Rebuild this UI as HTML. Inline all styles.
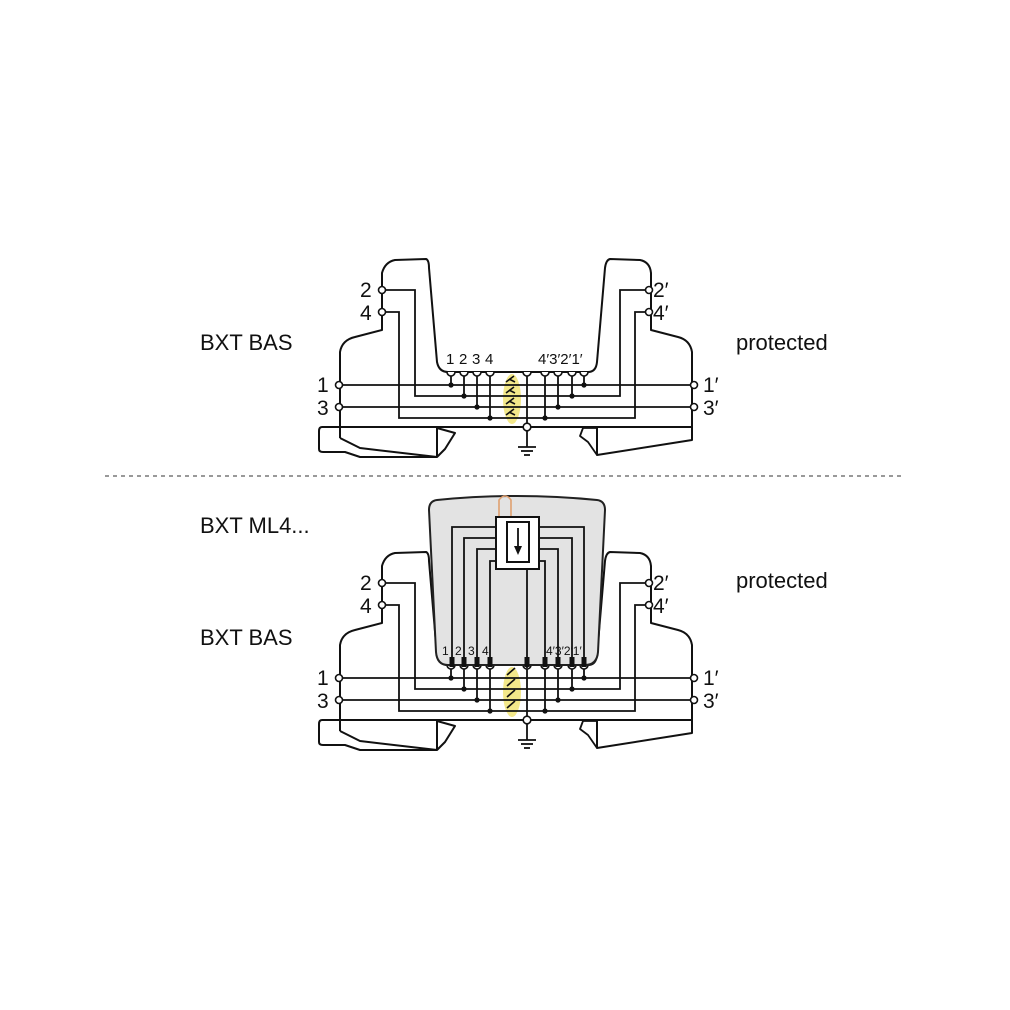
<!DOCTYPE html>
<html><head><meta charset="utf-8"><style>
html,body{margin:0;padding:0;background:#fff}
svg{display:block}
text{font-family:"Liberation Sans","DejaVu Sans",sans-serif;fill:#111}
</style></head><body>
<svg width="1010" height="1010" viewBox="0 0 1010 1010" xmlns="http://www.w3.org/2000/svg">
<defs>
<g id="mod" fill="none" stroke="#111" stroke-width="2" stroke-linejoin="round">
  <!-- housing outline -->
  <path d="M340,438 L340,352 Q342,340 355,337 L382,330 L382,273 Q385,262 395,260 L426,259 Q429,260 429,268 L437,362 Q439,372 448,372 L588,372 Q596,372 597,362 L605,268 Q606,260 610,259 L640,260 Q650,262 651,273 L651,330 L678,337 Q690,340 692,352 L692,440 L597,455 L597,428"/>
  <path d="M597,428 L583,428 L580,436 L588,442 L597,455" stroke-width="1.8"/>
  <path d="M340,438 L360,448 L437,457 L437,428 L455,433 L445,449 L437,457"/>
  <path d="M340,427 L322,427 Q319,427 319,431 L319,449 Q319,452 323,452 L345,452 L360,457 L437,457"/>
  <!-- base line -->
  <line x1="340" y1="427" x2="692" y2="427"/>
</g>
<g id="wires" fill="none" stroke="#111" stroke-width="1.8">
  <line x1="339" y1="385" x2="694" y2="385"/>
  <line x1="339" y1="407" x2="694" y2="407"/>
  <path d="M382,290 L415,290 L415,396 L620,396 L620,290 L649,290"/>
  <path d="M382,312 L399,312 L399,418 L635,418 L635,312 L649,312"/>
  <line x1="451" y1="375" x2="451" y2="385"/>
  <line x1="464" y1="375" x2="464" y2="396"/>
  <line x1="477" y1="375" x2="477" y2="407"/>
  <line x1="490" y1="375" x2="490" y2="418"/>
  <line x1="545" y1="375" x2="545" y2="418"/>
  <line x1="558" y1="375" x2="558" y2="407"/>
  <line x1="572" y1="375" x2="572" y2="396"/>
  <line x1="584" y1="375" x2="584" y2="385"/>
  <line x1="527" y1="375" x2="527" y2="447"/>
  <line x1="518" y1="447" x2="536" y2="447"/>
  <line x1="521" y1="451" x2="533" y2="451"/>
  <line x1="524" y1="455" x2="530" y2="455"/>
</g>
<g id="dots" fill="#111">
  <circle cx="451" cy="385" r="2.6"/><circle cx="464" cy="396" r="2.6"/>
  <circle cx="477" cy="407" r="2.6"/><circle cx="490" cy="418" r="2.6"/>
  <circle cx="545" cy="418" r="2.6"/><circle cx="558" cy="407" r="2.6"/>
  <circle cx="572" cy="396" r="2.6"/><circle cx="584" cy="385" r="2.6"/>
</g>
<g id="terms" fill="#fff" stroke="#111" stroke-width="1.6">
  <circle cx="339" cy="385" r="3.5"/><circle cx="339" cy="407" r="3.5"/>
  <circle cx="694" cy="385" r="3.5"/><circle cx="694" cy="407" r="3.5"/>
  <circle cx="382" cy="290" r="3.5"/><circle cx="382" cy="312" r="3.5"/>
  <circle cx="649" cy="290" r="3.5"/><circle cx="649" cy="312" r="3.5"/>
  <circle cx="527" cy="427" r="3.8"/>
</g>
<g id="cups" fill="#fff" stroke="#111" stroke-width="1.6">
  <path d="M447,372 a4,4 0 0 0 8,0"/><path d="M460,372 a4,4 0 0 0 8,0"/>
  <path d="M473,372 a4,4 0 0 0 8,0"/><path d="M486,372 a4,4 0 0 0 8,0"/>
  <path d="M523,372 a4,4 0 0 0 8,0"/>
  <path d="M541,372 a4,4 0 0 0 8,0"/><path d="M554,372 a4,4 0 0 0 8,0"/>
  <path d="M568,372 a4,4 0 0 0 8,0"/><path d="M580,372 a4,4 0 0 0 8,0"/>
</g>
<g id="labels" font-size="21">
  <text x="360" y="297">2</text><text x="360" y="320">4</text>
  <text x="317" y="392">1</text><text x="317" y="415">3</text>
  <text x="653" y="297">2′</text><text x="653" y="320">4′</text>
  <text x="703" y="392">1′</text><text x="703" y="415">3′</text>
</g>
</defs>

<!-- top module -->
<ellipse cx="512" cy="399" rx="9" ry="25" fill="#f3e88a"/>
<use href="#mod"/>
<use href="#wires"/>
<g stroke="#111" stroke-width="1.6" fill="none">
  <path d="M506,382 l8,-6 M509,379 l6,3"/><path d="M506,393 l8,-6 M509,390 l6,3"/>
  <path d="M506,404 l8,-6 M509,401 l6,3"/><path d="M506,415 l8,-6 M509,412 l6,3"/>
</g>
<use href="#dots"/><use href="#cups"/><use href="#terms"/><use href="#labels"/>
<g font-size="15">
  <text x="446" y="364">1</text><text x="459" y="364">2</text><text x="472" y="364">3</text><text x="485" y="364">4</text>
  <text x="538" y="364">4′3′2′1′</text>
</g>
<text x="200" y="350" font-size="22">BXT BAS</text>
<text x="736" y="350" font-size="22">protected</text>

<line x1="105" y1="476" x2="905" y2="476" stroke="#999" stroke-width="2" stroke-dasharray="4,4"/>

<!-- bottom module -->
<g transform="translate(0,293)">
  <ellipse cx="512" cy="399" rx="9" ry="25" fill="#f3e88a"/>
  <use href="#mod"/>
  <use href="#wires"/>
  <g stroke="#111" stroke-width="1.6" fill="none">
    <path d="M507,382 l8,-7"/><path d="M507,393 l8,-7"/><path d="M507,404 l8,-7"/><path d="M507,415 l8,-7"/>
  </g>
  <use href="#dots"/><use href="#cups"/><use href="#terms"/><use href="#labels"/>
</g>
<!-- grey plug module -->
<path d="M437,500 Q517,492 597,500 Q605,501 605,510 L598,652 Q597,665 585,665 L448,665 Q437,665 436,652 L429,510 Q429,501 437,500 Z" fill="#e3e3e3" stroke="#222" stroke-width="2"/>
<path d="M499,517 L499,500 Q505,492 511,500 L511,517" fill="none" stroke="#e0a070" stroke-width="1.6"/>
<g fill="none" stroke="#111" stroke-width="1.8">
  <path d="M452,660 L452,527 L496,527"/>
  <path d="M464,660 L464,538 L496,538"/>
  <path d="M477,660 L477,549 L496,549"/>
  <path d="M490,660 L490,561 L496,561"/>
  <path d="M584,660 L584,527 L539,527"/>
  <path d="M572,660 L572,538 L539,538"/>
  <path d="M558,660 L558,549 L539,549"/>
  <path d="M545,660 L545,561 L539,561"/>
  <line x1="527" y1="569" x2="527" y2="668"/>
</g>
<rect x="496" y="517" width="43" height="52" fill="#fff" stroke="#111" stroke-width="2"/>
<rect x="507" y="522" width="22" height="40" fill="#fff" stroke="#111" stroke-width="2"/>
<line x1="518" y1="528" x2="518" y2="550" stroke="#111" stroke-width="1.8"/>
<path d="M514,546 L522,546 L518,555 Z" fill="#111"/>
<g fill="#111">
  <rect x="449.5" y="657" width="5" height="10"/><rect x="461.5" y="657" width="5" height="10"/>
  <rect x="474.5" y="657" width="5" height="10"/><rect x="487.5" y="657" width="5" height="10"/>
  <rect x="524.5" y="657" width="5" height="10"/>
  <rect x="542.5" y="657" width="5" height="10"/><rect x="555.5" y="657" width="5" height="10"/>
  <rect x="569.5" y="657" width="5" height="10"/><rect x="581.5" y="657" width="5" height="10"/>
</g>
<g font-size="12">
  <text x="442" y="655">1</text><text x="455" y="655">2</text><text x="468" y="655">3</text><text x="482" y="655">4</text>
  <text x="546" y="655">4′3′2′1′</text>
</g>
<text x="200" y="533" font-size="22">BXT ML4...</text>
<text x="200" y="645" font-size="22">BXT BAS</text>
<text x="736" y="588" font-size="22">protected</text>
</svg>
</body></html>
